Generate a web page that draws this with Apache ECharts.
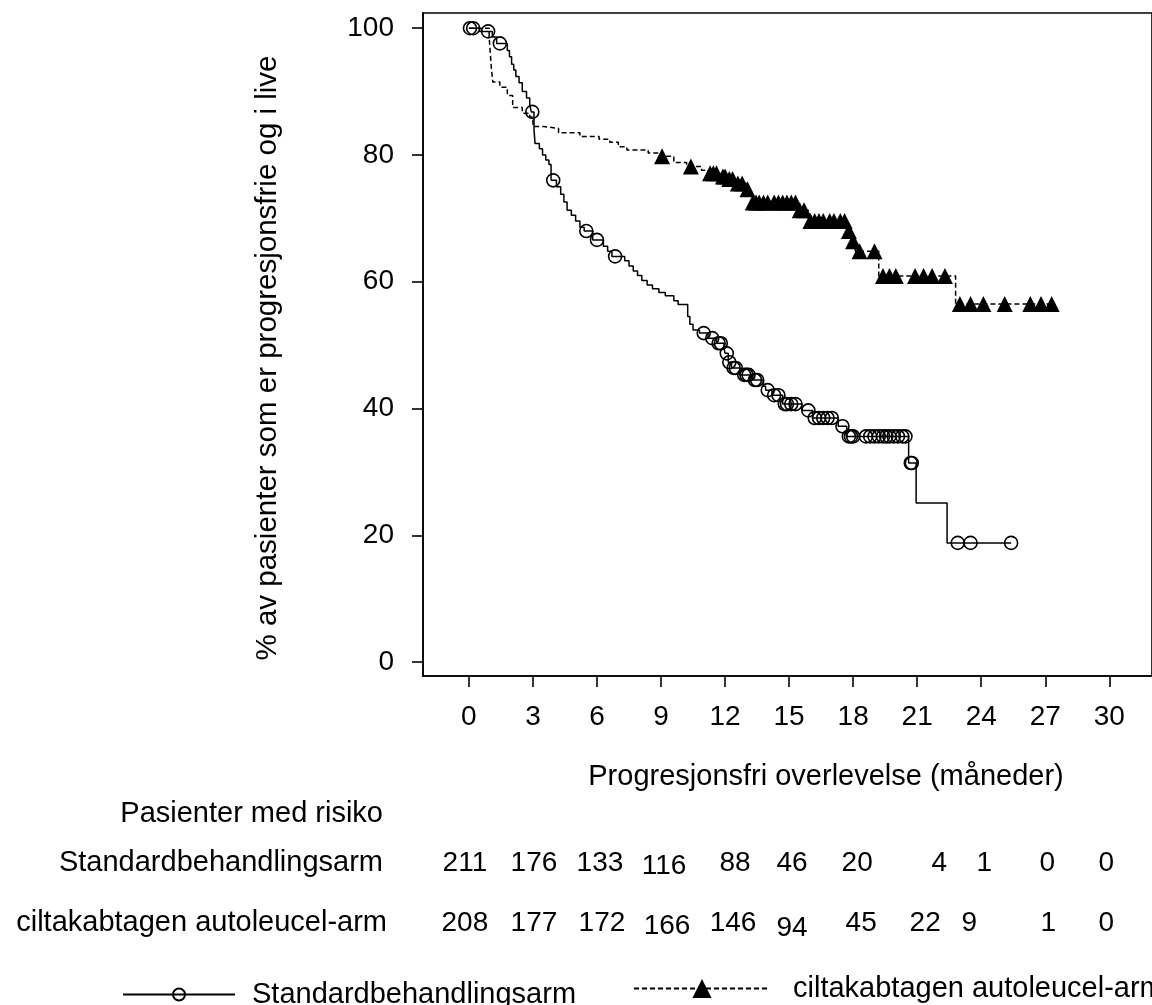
<!DOCTYPE html>
<html lang="no">
<head>
<meta charset="UTF-8">
<title>Progresjonsfri overlevelse</title>
<script src="https://cdn.jsdelivr.net/npm/echarts@6/dist/echarts.min.js"></script>
<style>
  html, body { margin: 0; padding: 0; background: #fff; }
  #chart { width: 1152px; height: 1005px; }
</style>
</head>
<body>
<div id="chart"></div>
<script>
    // Standardbehandlingsarm: time of each drop (months) and % after the drop
    const stdTimes = [0, 0.5, 1.1, 1.3, 1.8, 1.9, 2.0, 2.1, 2.2, 2.35, 2.5, 2.7, 2.85, 2.92, 3.05,
        3.1, 3.3, 3.45, 3.6, 3.75, 3.85, 4.1, 4.3, 4.45, 4.6, 4.8, 5.0, 5.2, 5.4, 5.8,
        6.3, 6.5, 6.7, 7.3, 7.5, 7.7, 7.9, 8.1, 8.35, 8.6, 8.9, 9.2, 9.6, 9.8, 10.25,
        10.35, 10.5, 10.8, 11.2, 11.6, 11.95, 12.0, 12.15, 12.3, 12.7, 13.3, 13.8, 13.9, 14.2, 14.7,
        15.6, 16.1, 17.3, 17.7, 20.6, 20.95, 22.4];
    const stdSurv = [100, 99.5, 98.6, 97.6, 96.5, 95.5, 94.3, 93.4, 92.4, 91.4, 90.0, 89.0, 88.0, 86.8, 84.0,
        81.8, 81.0, 80.0, 79.2, 78.5, 76.0, 75.0, 73.8, 72.6, 71.3, 70.5, 69.6, 68.6, 68.0, 66.6,
        65.6, 64.8, 64.0, 63.3, 62.5, 61.7, 61.0, 60.2, 59.5, 58.9, 58.3, 57.8, 57.0, 56.4, 54.5,
        53.3, 52.4, 51.9, 51.1, 50.3, 49.5, 48.7, 47.3, 46.4, 45.3, 44.5, 43.5, 42.9, 42.1, 40.7,
        39.7, 38.5, 37.2, 35.6, 31.4, 25.1, 18.8];
    const stdCensored = [0.05, 0.2, 0.9, 1.45, 2.97, 3.95, 5.5, 6.0, 6.85, 11.0, 11.4, 11.7, 11.8, 12.08,
        12.2, 12.4, 12.5, 12.9, 13.0, 13.1, 13.4, 13.5, 14.0, 14.3, 14.5, 14.8, 14.9, 15.1, 15.3,
        15.9, 16.2, 16.4, 16.6, 16.8, 17.0, 17.5, 17.8, 17.9, 18.0, 18.6, 18.8, 19.0, 19.2, 19.4,
        19.55, 19.7, 19.9, 20.1, 20.3, 20.45, 20.7, 20.75, 22.9, 23.5, 25.4];

    // ciltakabtagen autoleucel-arm
    const ciltaTimes = [0, 0.95, 1.0, 1.05, 1.12, 1.45, 1.8, 2.05, 2.5, 2.85, 3.0, 3.5, 4.2, 5.2, 6.1,
        6.6, 7.0, 7.4, 8.4, 8.9, 9.6, 10.2, 10.9, 11.2, 11.8, 12.1, 12.5, 13.0, 13.2, 15.4,
        15.9, 17.7, 17.9, 18.1, 19.2, 22.8];
    const ciltaSurv = [100, 98.6, 96.2, 93.8, 91.5, 90.7, 89.4, 87.5, 86.6, 86.0, 84.5, 84.2, 83.5, 82.9, 82.5,
        82.0, 81.3, 80.8, 80.3, 79.8, 78.8, 78.2, 77.6, 77.1, 76.6, 76.2, 75.5, 74.6, 72.5, 71.3,
        69.6, 68.0, 66.4, 64.8, 60.9, 56.5];
    const ciltaCensored = [9.05, 10.4, 11.3, 11.45, 11.6, 11.9, 12.0, 12.2, 12.35, 12.6, 12.8, 13.05,
        13.3, 13.45, 13.6, 13.8, 14.0, 14.3, 14.5, 14.7, 14.9, 15.1, 15.3, 15.5, 15.7, 16.0, 16.2,
        16.4, 16.6, 16.9, 17.1, 17.4, 17.6, 17.8, 18.0, 18.3, 19.0, 19.4, 19.7, 20.0, 20.9, 21.3,
        21.7, 22.3, 23.0, 23.5, 24.1, 25.1, 26.3, 26.8, 27.3];

    const xTicks = [0, 3, 6, 9, 12, 15, 18, 21, 24, 27, 30];
    const yTicks = [0, 20, 40, 60, 80, 100];

    // Pasienter med risiko, one count per x tick
    const riskStd = [211, 176, 133, 116, 88, 46, 20, 4, 1, 0, 0];
    const riskCilta = [208, 177, 172, 166, 146, 94, 45, 22, 9, 1, 0];

    const FONT = '"Liberation Sans", Arial, sans-serif';
    const FS = 28;     // tick labels and table numbers
    const FS_T = 29;   // titles, row labels, legend

    // small hand nudges (px) so the numbers sit like in the printed table
    const nudgeStd = [[-4, 0], [1, 0], [3, 0], [3, 3], [10, 0], [3, 0], [4, 0], [22, 0], [3, 0], [2, 0], [-3, 0]];
    const nudgeCilta = [[-4, 0], [1, 0], [5, 0], [6, 3], [8, 0], [3, 5], [8, 0], [8, 0], [-12, 0], [3, 0], [-3, 0]];

    function levelAt(times, surv, t) {
        let s = surv[0];
        for (let i = 0; i < times.length; i++) {
            if (times[i] <= t) s = surv[i];
            else break;
        }
        return s;
    }

    function curveData(times, surv, censored) {
        const pts = times.map((t, i) => ({value: [t, surv[i]], symbol: 'none'}));
        censored.forEach(c => pts.push({value: [c, levelAt(times, surv, c)]}));
        pts.sort((a, b) => a.value[0] - b.value[0]);
        return pts;
    }

    let myChart = echarts.init(document.getElementById('chart'));

    myChart.setOption({
        animation: false,
        backgroundColor: '#fff',
        textStyle: {fontFamily: FONT},
        grid: {
            left: 423, top: 13, width: 730, height: 663,
            show: true, borderColor: '#000', borderWidth: 1.6
        },
        xAxis: {
            type: 'value', min: -2.15, max: 32,
            axisLine: {show: true, onZero: false, lineStyle: {color: '#000', width: 1.6}},
            axisTick: {show: true, customValues: xTicks, length: 11, lineStyle: {color: '#000', width: 1.6}},
            axisLabel: {customValues: xTicks, fontSize: FS, color: '#000', margin: 27, fontFamily: FONT},
            splitLine: {show: false}
        },
        yAxis: {
            type: 'value', min: -2.2, max: 102.4,
            axisLine: {show: true, onZero: false, lineStyle: {color: '#000', width: 1.6}},
            axisTick: {show: true, customValues: yTicks, length: 11, lineStyle: {color: '#000', width: 1.6}},
            axisLabel: {customValues: yTicks, fontSize: FS, color: '#000', margin: 29, fontFamily: FONT},
            splitLine: {show: false}
        },
        legend: [
            {
                data: ['Standardbehandlingsarm'],
                left: 117, top: 975,
                itemWidth: 112, itemHeight: 15,
                selectedMode: false,
                textStyle: {fontSize: FS_T, color: '#000', fontFamily: FONT, padding: [0, 0, 0, 12]}
            },
            {
                data: ['ciltakabtagen autoleucel-arm'],
                left: 628, top: 969,
                itemWidth: 136, itemHeight: 24,
                selectedMode: false,
                textStyle: {fontSize: FS_T, color: '#000', fontFamily: FONT, padding: [0, 0, 0, 18]}
            }
        ],
        series: [
            {
                name: 'Standardbehandlingsarm',
                type: 'line',
                step: 'end',
                data: curveData(stdTimes, stdSurv, stdCensored),
                symbol: 'circle',
                symbolSize: 13,
                showAllSymbol: true,
                itemStyle: {color: 'rgba(0,0,0,0)', borderColor: '#000', borderWidth: 1.6},
                lineStyle: {color: '#000', width: 1.5},
                emphasis: {disabled: true}
            },
            {
                name: 'ciltakabtagen autoleucel-arm',
                type: 'line',
                step: 'end',
                data: curveData(ciltaTimes, ciltaSurv, ciltaCensored),
                symbol: 'triangle',
                symbolSize: 16,
                showAllSymbol: true,
                itemStyle: {color: '#000'},
                lineStyle: {color: '#000', width: 1.5, type: [5, 3]},
                emphasis: {disabled: true}
            }
        ]
    });

    // titles and the at-risk table
    let txt = (text, x, y, align, size, extra) => Object.assign({
        type: 'text', x: x, y: y, silent: true,
        style: {text: text, fill: '#000', font: size + 'px ' + FONT, align: align, verticalAlign: 'middle'}
    }, extra || {});

    let graphics = [
        txt('% av pasienter som er progresjonsfrie og i live', 268, 358, 'center', 29.5, {rotation: Math.PI / 2}),
        txt('Progresjonsfri overlevelse (måneder)', 826, 777, 'center', FS_T),
        txt('Pasienter med risiko', 383, 814, 'right', FS_T),
        txt('Standardbehandlingsarm', 383, 863, 'right', FS_T),
        txt('ciltakabtagen autoleucel-arm', 387, 923, 'right', FS_T)
    ];
    xTicks.forEach((m, i) => {
        let px = myChart.convertToPixel({xAxisIndex: 0}, m);
        graphics.push(txt(String(riskStd[i]), px + nudgeStd[i][0], 863 + nudgeStd[i][1], 'center', FS));
        graphics.push(txt(String(riskCilta[i]), px + nudgeCilta[i][0], 923 + nudgeCilta[i][1], 'center', FS));
    });
    myChart.setOption({graphic: graphics});
</script>
</body>
</html>
